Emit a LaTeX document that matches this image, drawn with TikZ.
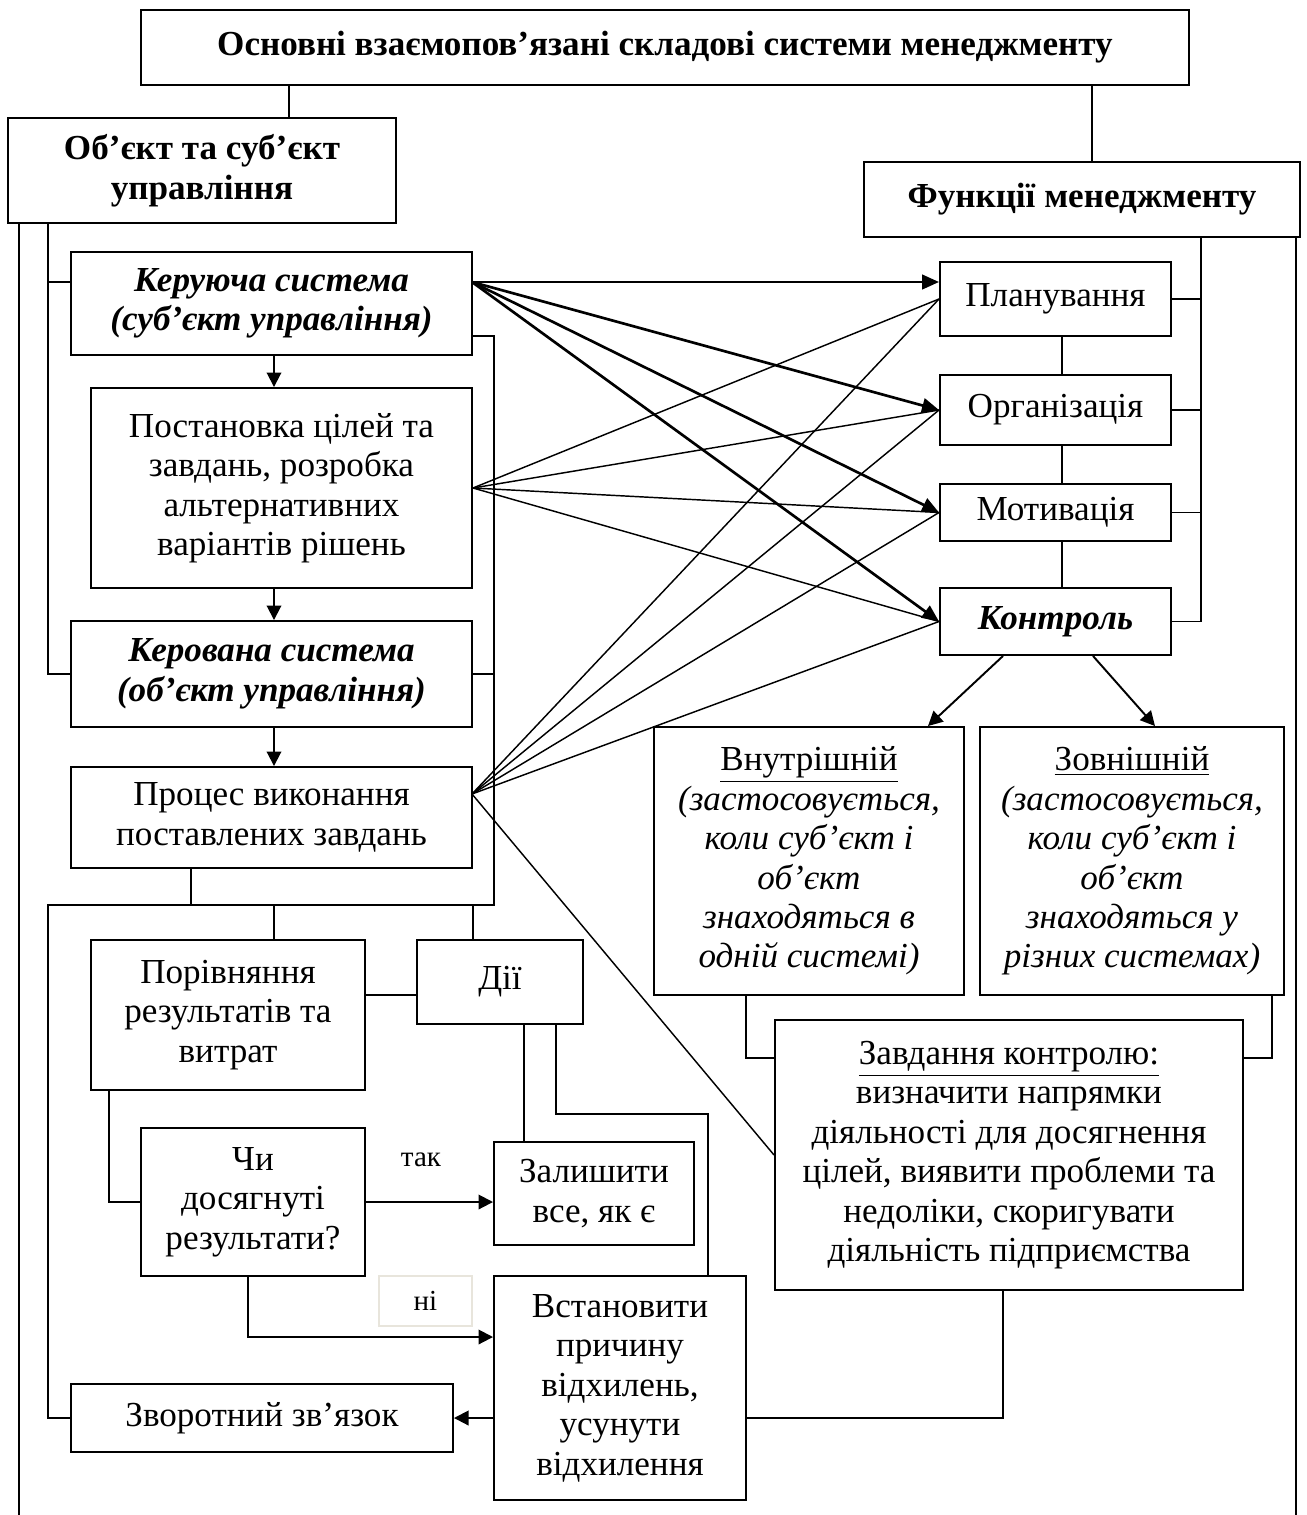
\documentclass[tikz,border=0pt]{standalone}
\usepackage{fontspec}
\setmainfont{Liberation Serif}
\usetikzlibrary{arrows.meta,calc}
\definecolor{faint}{HTML}{E8E5DC}
\newcommand{\fs}{\fontsize{14.5}{16.3}\selectfont}
\tikzset{
  blk/.style={draw, line width=0.8pt, align=center, inner sep=2pt, font=\fs},
  bblk/.style={blk, font=\fs\bfseries},
  biblk/.style={blk, font=\fs\bfseries\itshape},
  sz/.style 2 args={minimum width=#1*0.413pt, minimum height=#2*0.413pt},
  ln/.style={line width=0.6pt},
  arr/.style={line width=0.8pt, -{Triangle[length=6pt,width=6pt]}},
  bigarr/.style={line width=1.1pt, -{Triangle[length=7pt,width=6pt]}}
}
\begin{document}
\begin{tikzpicture}
[x=0.413pt,y=-0.413pt]
\useasboundingbox (0,0) rectangle (1306,1515);
\node [bblk,sz={1048}{75}] (title) at (665,47.5) {Основні взаємопов’язані складові системи менеджменту};
\node [bblk,sz={388}{105}] (obj) at (202,170.5) {Об’єкт та суб’єкт\\управління};
\node [bblk,sz={436}{75}] (func) at (1082,199.5) {Функції менеджменту};
\node [biblk,sz={401}{103}] (ker) at (271.5,303.5) {Керуюча система\\(суб’єкт управління)};
\node [blk,sz={381}{200}] (post) at (281.5,488) {Постановка цілей та\\завдань, розробка\\альтернативних\\варіантів рішень};
\node [biblk,sz={401}{106}] (kerov) at (271.5,674) {Керована система\\(об’єкт управління)};
\node [blk,sz={401}{101}] (proc) at (271.5,817.5) {Процес виконання\\поставлених завдань};
\node [blk,sz={274}{150}] (porivn) at (228,1015) {Порівняння\\результатів та\\витрат};
\node [blk,sz={166}{84}] (dii) at (500,982) {Дії};
\node [blk,sz={224}{148}] (chy) at (253,1202) {Чи\\досягнуті\\результати?};
\node [blk,sz={200}{103}] (zal) at (594,1193.5) {Залишити\\все, як є};
\node [blk,sz={252}{224}] (vstan) at (620,1388) {Встановити\\причину\\відхилень,\\усунути\\відхилення};
\node [blk,sz={382}{68}] (zvorot) at (262,1418) {Зворотний зв’язок};
\node [blk,sz={231}{74}] (plan) at (1055.5,299) {Планування};
\node [blk,sz={231}{70}] (org) at (1055.5,410) {Організація};
\node [blk,sz={231}{57}] (mot) at (1055.5,512.5) {Мотивація};
\node [biblk,sz={231}{67}] (kontr) at (1055.5,621.5) {Контроль};
\node [blk,sz={310}{268}] (vnut) at (809,861) {\underline{Внутрішній}\\\textit{(застосовується,}\\\textit{коли суб’єкт і}\\\textit{об’єкт}\\\textit{знаходяться в}\\\textit{одній системі)}};
\node [blk,sz={304}{268}] (zovn) at (1132,861) {\underline{Зовнішній}\\\textit{(застосовується,}\\\textit{коли суб’єкт і}\\\textit{об’єкт}\\\textit{знаходяться у}\\\textit{різних системах)}};
\node [blk,sz={468}{270}] (zavd) at (1009,1155) {\underline{Завдання контролю:}\\визначити напрямки\\діяльності для досягнення\\цілей, виявити проблеми та\\недоліки, скоригувати\\діяльність підприємства};
\node [blk,draw=faint,sz={93}{50},font=\fontsize{12}{14}\selectfont] (ni) at (425.5,1301) {ні};
\node [font=\fontsize{12}{14}\selectfont] (tak) at (421,1160) {так};
\coordinate (tl) at (289,0);
\coordinate (tr) at (1092,0);
\coordinate (l1) at (19,1515);
\coordinate (l2) at (48,282);
\coordinate (m) at (274,0);
\coordinate (r) at (494,336);
\coordinate (sp) at (191,905);
\coordinate (pd) at (0,995);
\coordinate (pc) at (109,0);
\coordinate (cv) at (248,1337);
\coordinate (dz) at (524,0);
\coordinate (dv1) at (556,1114);
\coordinate (dv2) at (708,1114);
\coordinate (zv) at (1003,1418);
\coordinate (vz) at (746,1058);
\coordinate (zz) at (1272,1058);
\coordinate (ka) at (1003,0);
\coordinate (kb) at (928,0);
\coordinate (kc) at (1093,0);
\coordinate (kd) at (1155,0);
\coordinate (pv) at (1062,0);
\coordinate (rb) at (1201,0);
\coordinate (ro) at (1296,1515);
\coordinate (kout) at (472,282);
\coordinate (pout) at (472,794);
\draw [ln] (tl |- title.south) -- (tl |- obj.north);
\draw [ln] (tr |- title.south) -- (tr |- func.north);
\draw [ln] (l1 |- obj.south) -- (l1);
\draw [ln] (l2 |- obj.south) |- (kerov.west);
\draw [ln] (l2) -- (ker.west |- l2);
\draw [ln] (ker.east |- r) -| (r |- sp) -| (l2 |- zvorot.west) -- (zvorot.west);
\draw [ln] (kerov.east) -- (r |- kerov.east);
\draw [ln] (sp |- proc.south) -- (sp);
\draw [ln] (m |- sp) -- (m |- porivn.north);
\draw [ln] (proc.east |- sp) -- (proc.east |- dii.north);
\draw [arr] (m |- ker.south) -- (m |- post.north);
\draw [arr] (m |- post.south) -- (m |- kerov.north);
\draw [arr] (m |- kerov.south) -- (m |- proc.north);
\draw [ln] (porivn.east |- pd) -- (dii.west |- pd);
\draw [ln] (pc |- porivn.south) |- (chy.west);
\draw [arr] (chy.east) -- (zal.west |- chy.east);
\draw [arr] (cv |- chy.south) |- (vstan.west |- cv);
\draw [ln] (dz |- dii.south) -- (dz |- zal.north);
\draw [ln] (dv1 |- dii.south) -- (dv1) -- (dv2) -- (dv2 |- vstan.north);
\draw [arr] (vstan.west |- zvorot.east) -- (zvorot.east);
\draw [ln] (zv |- zavd.south) -- (zv) -- (vstan.east |- zv);
\draw [ln] (vz |- vnut.south) -- (vz) -- (zavd.west |- vz);
\draw [ln] (zz |- zovn.south) -- (zz) -- (zavd.east |- zz);
\draw [arr] (ka |- kontr.south) -- (kb |- vnut.north);
\draw [arr] (kc |- kontr.south) -- (kd |- zovn.north);
\foreach \a/\b in {plan/org,org/mot,mot/kontr} \draw [ln] (pv |- \a.south) -- (pv |- \b.north);
\draw [ln] (rb |- func.south) |- (kontr.east);
\foreach \a in {plan,org,mot} \draw [ln] (\a.east) -- (rb |- \a.east);
\draw [ln] (ro |- func.south) -- (ro);
\draw [bigarr] (kout) -- (plan.west |- kout);
\foreach \a in {org,mot,kontr} \draw [bigarr] (kout) -- (\a.west);
\foreach \s in {post.east,pout} \foreach \a in {plan,org,mot,kontr} \draw [ln] (\s) -- (\a.west);
\draw [ln] (pout) -- (zavd.west);
\end{tikzpicture}
\end{document}
